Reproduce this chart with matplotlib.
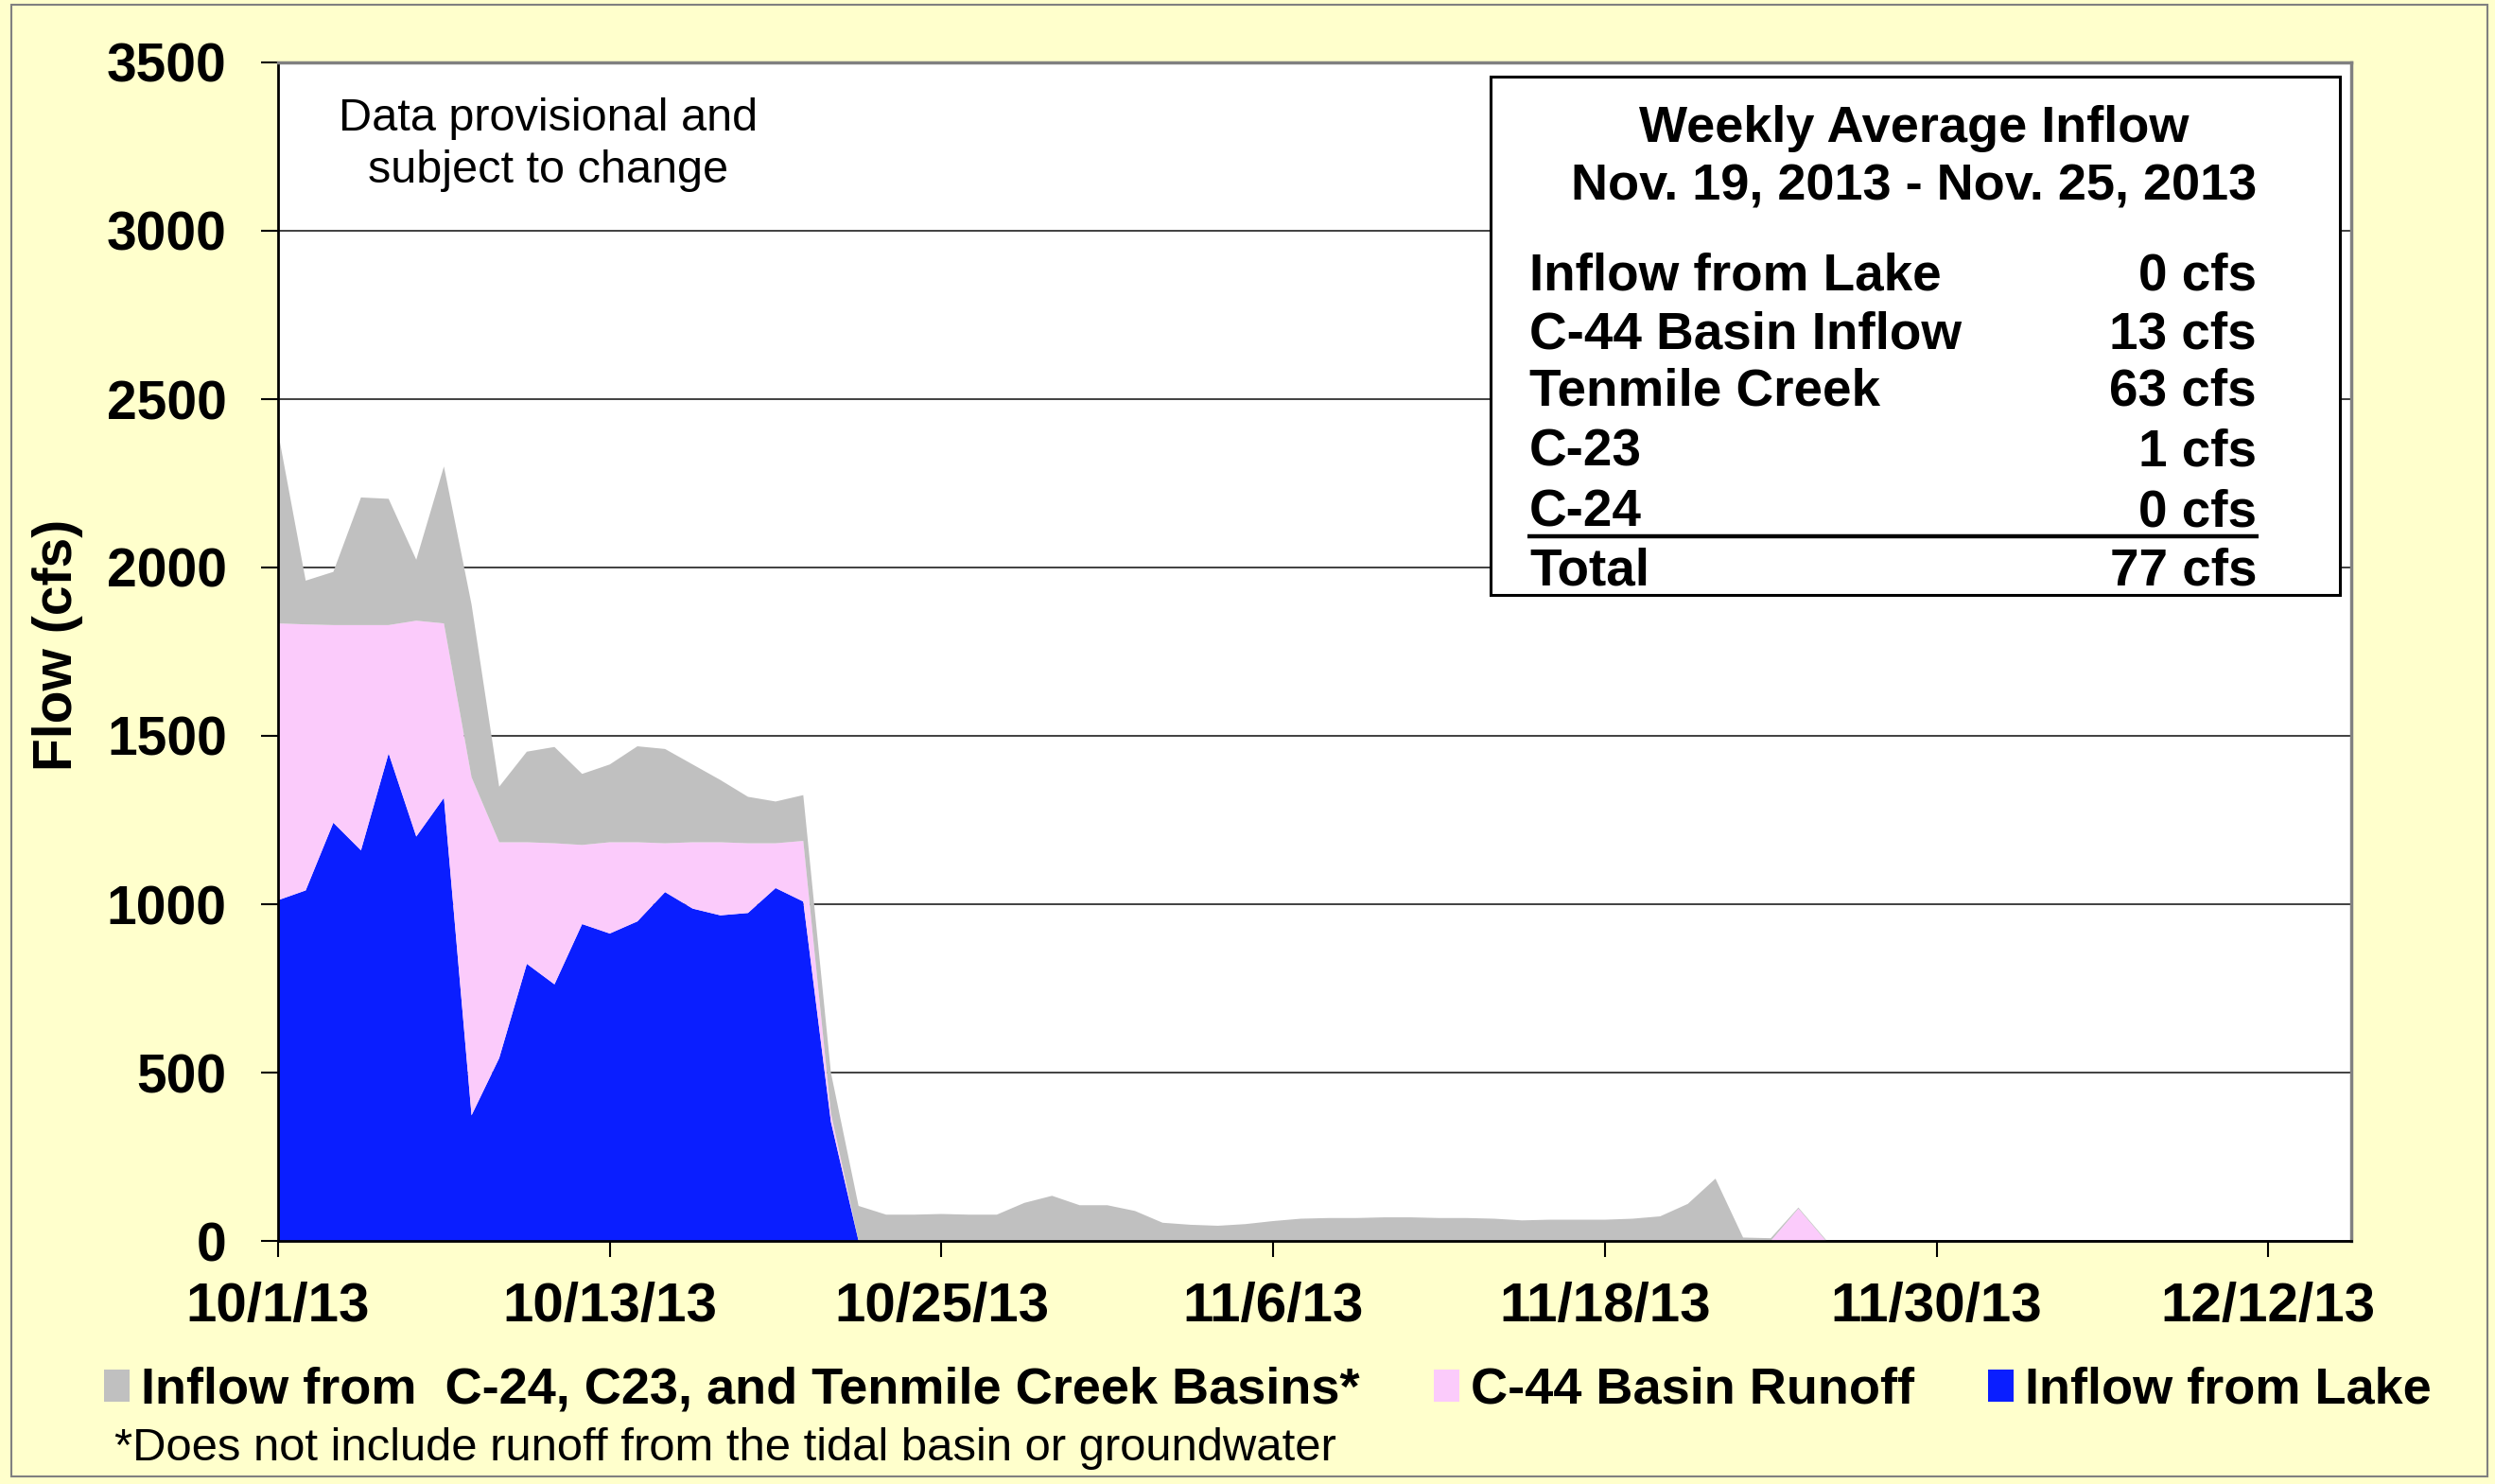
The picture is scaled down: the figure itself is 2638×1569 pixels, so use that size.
import matplotlib
matplotlib.use("Agg")
import matplotlib.pyplot as plt
from matplotlib.patches import Rectangle
import numpy as np
import pandas as pd

plt.rcParams['font.family'] = ['Liberation Sans', 'DejaVu Sans']

# daily flows (cfs) starting 10/1/13
dates = pd.date_range('2013-10-01', periods=57, freq='D')
lake = [1012, 1041, 1242, 1160, 1448, 1201, 1316, 373, 543, 823, 762, 941, 913, 949,
        1036, 987, 967, 974, 1048, 1008, 354, 0, 0, 0, 0, 0, 0, 0, 0, 0, 0, 0, 0, 0,
        0, 0, 0, 0, 0, 0, 0, 0, 0, 0, 0, 0, 0, 0, 0, 0, 0, 0, 0, 0, 0, 0, 0]
c44 = [822, 790, 587, 669, 381, 641, 518, 1004, 641, 361, 419, 235, 271, 235,
       145, 197, 217, 207, 133, 180, 26, 0, 0, 0, 0, 0, 0, 0, 0, 0, 0, 0, 0, 0,
       0, 0, 0, 0, 0, 0, 0, 0, 0, 0, 0, 0, 0, 0, 0, 0, 0, 0, 0, 0, 0, 96, 0]
basins = [568, 130, 158, 379, 375, 181, 466, 513, 165, 269, 286, 211, 231, 285,
          280, 231, 185, 138, 124, 136, 120, 104, 78, 78, 80, 78, 78, 113, 134, 106,
          106, 89, 54, 48, 45, 50, 59, 66, 68, 68, 70, 70, 68, 68, 66, 61, 63, 63,
          63, 66, 73, 110, 185, 10, 8, 3, 3]

tick_labels = ['10/1/13', '10/13/13', '10/25/13', '11/6/13', '11/18/13', '11/30/13', '12/12/13']
series_names = ['Inflow from Lake', 'C-44 Basin Runoff',
                'Inflow from  C-24, C23, and Tenmile Creek Basins*']
colors = ['#0A1EFF', '#FBCBFB', '#C0C0C0']

box_rows = ['Inflow from Lake', 'C-44 Basin Inflow', 'Tenmile Creek', 'C-23', 'C-24', 'Total']
box_vals = ['0 cfs', '13 cfs', '63 cfs', '1 cfs', '0 cfs', '77 cfs']

W, H = 2638, 1569
fig = plt.figure(figsize=(W / 100, H / 100), dpi=100, facecolor='#FFFFCC')
fig.patches.append(Rectangle((12 / W, 1 - 1561 / H), (2630 - 12) / W, (1561 - 5) / H,
                             transform=fig.transFigure, fill=False,
                             edgecolor='#808080', lw=1.5))

L, R, T, B = 294, 2486, 66, 1312
ax = fig.add_axes([L / W, 1 - B / H, (R - L) / W, (B - T) / H])
ax.set_facecolor('white')

polys = ax.stackplot(dates, lake, c44, basins, colors=colors, labels=series_names, lw=0)

ax.set_ylim(0, 3500)
ax.set_yticks(np.arange(0, 3501, 500))
ax.set_xlim(pd.Timestamp('2013-10-01'), pd.Timestamp('2013-12-15'))
ax.set_xticks(pd.to_datetime(tick_labels, format='%m/%d/%y'))
ax.set_xticklabels(tick_labels)
ax.yaxis.grid(True, color='#404040', lw=1.4)
ax.set_axisbelow(True)

ax.tick_params(axis='y', direction='out', length=13, width=1.5, pad=26, labelsize=41)
ax.tick_params(axis='x', direction='out', length=12, width=1.5, pad=19, labelsize=42)
for lab in ax.get_xticklabels() + ax.get_yticklabels():
    lab.set_fontweight('bold')

for s in ['left', 'bottom']:
    ax.spines[s].set_color('black')
    ax.spines[s].set_linewidth(2)
for s in ['top', 'right']:
    ax.spines[s].set_color('#808080')
    ax.spines[s].set_linewidth(2.5)

ax.set_ylabel('Flow (cfs)', fontsize=41, fontweight='bold')
ax.yaxis.set_label_coords(-0.094, 0.506)

# provisional note
ax.text(0.1305, 0.942, 'Data provisional and', transform=ax.transAxes,
        ha='center', va='baseline', fontsize=35)
ax.text(0.1305, 0.898, 'subject to change', transform=ax.transAxes,
        ha='center', va='baseline', fontsize=35)

# weekly average box
ax.add_patch(Rectangle((0.5849, 0.548), 0.9945 - 0.5849, 0.988 - 0.548,
                       transform=ax.transAxes, facecolor='white',
                       edgecolor='black', lw=2.2, zorder=5))
ax.text(0.789, 0.9326, 'Weekly Average Inflow', transform=ax.transAxes, ha='center',
        va='baseline', fontsize=39, fontweight='bold', zorder=6)
ax.text(0.789, 0.8836, 'Nov. 19, 2013 - Nov. 25, 2013', transform=ax.transAxes,
        ha='center', va='baseline', fontsize=39, fontweight='bold', zorder=6)
row_y = [0.8066, 0.7576, 0.7087, 0.6581, 0.6067, 0.5562]
for name, val, yy in zip(box_rows, box_vals, row_y):
    ax.text(0.6036, yy, name, transform=ax.transAxes, ha='left', va='baseline',
            fontsize=39.5, fontweight='bold', zorder=6)
    ax.text(0.9544, yy, val, transform=ax.transAxes, ha='right', va='baseline',
            fontsize=39.5, fontweight='bold', zorder=6)
ax.plot([0.6026, 0.9553], [0.5979, 0.5979], transform=ax.transAxes,
        color='black', lw=3.2, zorder=6, solid_capstyle='butt')

# legend (gray, pink, blue)
handles = [polys[2], polys[1], polys[0]]
labels = [series_names[2], series_names[1], series_names[0]]
fig.legend(handles, labels, loc='center', bbox_to_anchor=(0.508, 1 - 1470 / H), ncol=3,
           frameon=False, prop={'size': 39, 'weight': 'bold'},
           handlelength=0.5, handleheight=0.6, handletextpad=0.22,
           columnspacing=1.44, borderaxespad=0, borderpad=0)

fig.text(121 / W, 1 - 1531 / H, '*Does not include runoff from the tidal basin or groundwater',
         ha='left', va='center', fontsize=35.3)

fig.savefig('out.png', dpi=100, facecolor=fig.get_facecolor())
